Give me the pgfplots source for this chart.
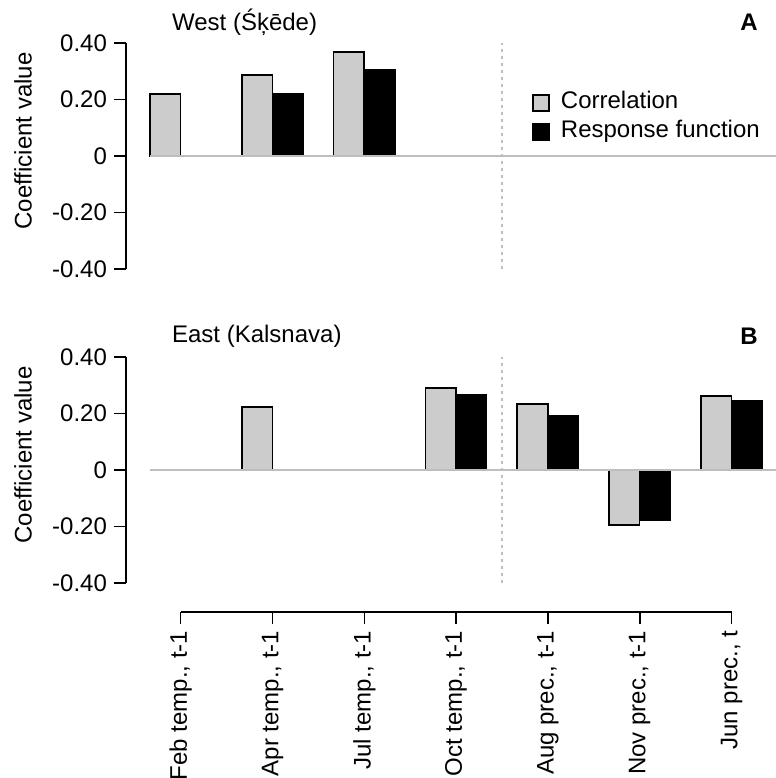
\documentclass[border=0pt]{standalone}
\usepackage{pgfplots}
\pgfplotsset{compat=1.18}
\usepackage{fontspec}
\setmainfont{Liberation Sans}
\definecolor{barfill}{HTML}{CCCCCC}
\definecolor{refgray}{HTML}{BEBEBE}
\newcommand{\fs}{\fontsize{12}{14}\selectfont}
\begin{document}
\begin{tikzpicture}
\useasboundingbox (0pt,0pt) rectangle (388pt,389pt);
\pgfplotsset{
 panel/.style={
  scale only axis, x=15.3pt, y=141.25pt,
  xmin=-1.787, xmax=19.45, ymin=-0.4, ymax=0.4,
  axis x line=none, axis y line=left,
  axis line style={-, line width=0.8pt},
  ytick={-0.4,-0.2,0,0.2,0.4}, yticklabels={-0.40,-0.20,0,0.20,0.40},
  tick align=outside, major tick length=6pt,
  tick style={line width=0.8pt, black},
  yticklabel style={font=\fs},
  clip=false, anchor=south west, bar width=1,
 },
 grayb/.style={ybar, bar shift=0pt, fill=barfill, draw=black, line width=0.8pt},
 blackb/.style={ybar, bar shift=0pt, fill=black, draw=black, line width=0.8pt},
}
% Panel A
\begin{axis}[panel, at={(63pt,254.5pt)},
  legend style={at={(axis cs:11.48,0.229)}, anchor=north west, draw=none, fill=none,
    font=\fs, inner sep=0pt, row sep=3pt, column sep=5.5pt,
    nodes={inner sep=0pt, text height=8.5pt, text depth=3pt}},
  legend cell align=left]
\addplot[grayb, legend image code/.code={\draw[fill=barfill,draw=black,line width=0.8pt] (0pt,-4pt) rectangle (8pt,4pt);}]
  coordinates {(-0.5,0.219) (2.5,0.287) (5.5,0.368)};
\addlegendentry{Correlation}
\addplot[blackb, legend image code/.code={\draw[fill=black,draw=black,line width=0.8pt] (0pt,-4pt) rectangle (8pt,4pt);}]
  coordinates {(3.5,0.219) (6.5,0.304)};
\addlegendentry{Response function}
\addplot[refgray, line width=0.75pt, forget plot] coordinates {(-1,0) (19.45,0)};
\addplot[refgray, dash pattern=on 1.5pt off 2pt, line width=0.75pt, forget plot] coordinates {(10.5,-0.4) (10.5,0.4)};
\node[anchor=west, font=\fs] at (axis cs:-0.51,0.474) {West (Śķēde)};
\node[anchor=east, font=\fs\bfseries] at (axis cs:19.09,0.474) {A};
\node[rotate=90, font=\fs] at (axis cs:-5.15,0.053) {Coefficient value};
\end{axis}
% Panel B
\begin{axis}[panel, at={(63pt,97.5pt)}]
\addplot[grayb] coordinates {(2.5,0.223) (8.5,0.290) (11.5,0.234) (14.5,-0.195) (17.5,0.262)};
\addplot[blackb] coordinates {(9.5,0.265) (12.5,0.191) (15.5,-0.177) (18.5,0.244)};
\addplot[refgray, line width=0.75pt] coordinates {(-1,0) (19.45,0)};
\addplot[refgray, dash pattern=on 1.5pt off 2pt, line width=0.75pt] coordinates {(10.5,-0.4) (10.5,0.4)};
\node[anchor=west, font=\fs] at (axis cs:-0.51,0.474) {East (Kalsnava)};
\node[anchor=east, font=\fs\bfseries] at (axis cs:19.09,0.474) {B};
\node[rotate=90, font=\fs] at (axis cs:-5.15,0.053) {Coefficient value};
\end{axis}
% Bottom category axis
\begin{axis}[scale only axis, x=15.3pt, y=10pt, xmin=0, xmax=18, ymin=0, ymax=1,
  anchor=south west, at={(90.35pt,83.15pt)},
  axis y line=none, axis x line=bottom, axis line style={-, line width=0.8pt},
  xtick={0,3,6,9,12,15,18},
  xticklabels={{Feb temp., t-1},{Apr temp., t-1},{Jul temp., t-1},{Oct temp., t-1},{Aug prec., t-1},{Nov prec., t-1},{Jun prec., t}},
  tick align=outside, major tick length=6pt, tick style={line width=0.8pt, black},
  xticklabel style={rotate=90, anchor=east, font=\fs}]
\addplot[draw=none, forget plot] coordinates {(0,0.5) (18,0.5)};
\end{axis}
\end{tikzpicture}
\end{document}
